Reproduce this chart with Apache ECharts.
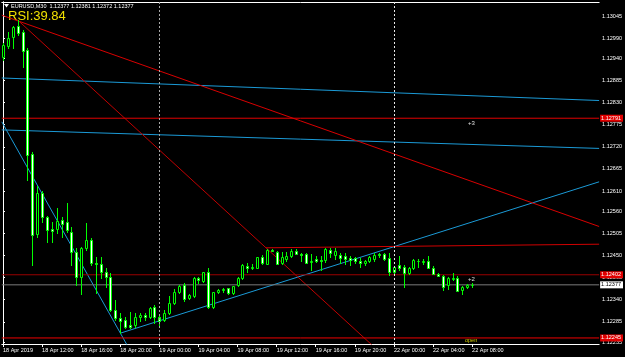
<!DOCTYPE html>
<html><head><meta charset="utf-8">
<script src="https://cdn.jsdelivr.net/npm/echarts@6/dist/echarts.min.js"></script>
<style>html,body{margin:0;padding:0;background:#000;}#c{width:625px;height:357px;}</style>
</head><body><div id="c"></div>
<script>
// ---- data (EURUSD M30, bar index 0 = 18 Apr 2019 08:00) ----
const opens = [1.12943,1.12971,1.12992,1.13020,1.13006,1.12961,1.12702,1.12503,1.12605,1.12546,
1.12515,1.12516,1.12538,1.12533,1.12508,1.12459,1.12397,1.12469,1.12488,1.12431,
1.12429,1.12408,1.12397,1.12315,1.12295,1.12290,1.12277,1.12277,1.12297,1.12302,
1.12298,1.12323,1.12297,1.12290,1.12306,1.12331,1.12360,1.12377,1.12345,1.12350,
1.12393,1.12387,1.12410,1.12321,1.12359,1.12364,1.12368,1.12357,1.12377,1.12394,
1.12424,1.12418,1.12420,1.12447,1.12430,1.12464,1.12459,1.12431,1.12441,1.12449,
1.12462,1.12454,1.12454,1.12434,1.12441,1.12439,1.12439,1.12464,1.12451,1.12451,
1.12449,1.12443,1.12443,1.12435,1.12431,1.12437,1.12441,1.12454,1.12454,1.12443,
1.12409,1.12426,1.12422,1.12406,1.12419,1.12435,1.12434,1.12435,1.12419,1.12403,
1.12399,1.12376,1.12391,1.12393,1.12364,1.12372,1.12377];
const highs = [1.12978,1.13005,1.13020,1.13035,1.13010,1.12966,1.12707,1.12623,1.12609,1.12548,
1.12533,1.12568,1.12546,1.12580,1.12521,1.12469,1.12471,1.12531,1.12493,1.12446,
1.12446,1.12419,1.12407,1.12339,1.12307,1.12298,1.12310,1.12307,1.12308,1.12307,
1.12323,1.12327,1.12302,1.12314,1.12349,1.12366,1.12377,1.12381,1.12354,1.12397,
1.12397,1.12410,1.12418,1.12360,1.12366,1.12369,1.12370,1.12375,1.12397,1.12430,
1.12432,1.12430,1.12447,1.12451,1.12465,1.12466,1.12461,1.12459,1.12459,1.12465,
1.12465,1.12456,1.12456,1.12454,1.12449,1.12449,1.12468,1.12468,1.12468,1.12457,
1.12456,1.12449,1.12447,1.12444,1.12439,1.12449,1.12456,1.12456,1.12456,1.12457,
1.12424,1.12449,1.12426,1.12422,1.12441,1.12441,1.12440,1.12449,1.12424,1.12406,
1.12401,1.12396,1.12406,1.12399,1.12374,1.12378,1.12381];
const lows = [1.12936,1.12966,1.12966,1.12998,1.12919,1.12638,1.12426,1.12496,1.12534,1.12483,
1.12483,1.12506,1.12496,1.12508,1.12426,1.12377,1.12354,1.12464,1.12426,1.12357,
1.12394,1.12372,1.12312,1.12290,1.12257,1.12270,1.12270,1.12272,1.12286,1.12290,
1.12294,1.12281,1.12273,1.12286,1.12305,1.12329,1.12357,1.12338,1.12342,1.12348,
1.12382,1.12384,1.12319,1.12319,1.12356,1.12359,1.12355,1.12354,1.12374,1.12391,
1.12410,1.12416,1.12418,1.12430,1.12429,1.12460,1.12430,1.12430,1.12435,1.12447,
1.12453,1.12435,1.12431,1.12414,1.12434,1.12415,1.12434,1.12447,1.12441,1.12431,
1.12430,1.12426,1.12431,1.12422,1.12426,1.12434,1.12436,1.12446,1.12439,1.12402,
1.12402,1.12414,1.12372,1.12404,1.12417,1.12422,1.12429,1.12418,1.12403,1.12398,
1.12364,1.12367,1.12389,1.12362,1.12354,1.12368,1.12372];
const closes = [1.12973,1.12990,1.13018,1.13004,1.12959,1.12700,1.12501,1.12605,1.12546,1.12513,
1.12512,1.12536,1.12528,1.12513,1.12459,1.12397,1.12469,1.12488,1.12431,1.12429,
1.12409,1.12397,1.12315,1.12295,1.12287,1.12272,1.12272,1.12297,1.12302,1.12298,
1.12319,1.12296,1.12287,1.12308,1.12333,1.12360,1.12374,1.12342,1.12352,1.12393,
1.12389,1.12408,1.12321,1.12358,1.12364,1.12366,1.12357,1.12374,1.12393,1.12426,
1.12420,1.12422,1.12446,1.12431,1.12464,1.12461,1.12430,1.12446,1.12449,1.12462,
1.12454,1.12452,1.12432,1.12437,1.12437,1.12436,1.12465,1.12457,1.12462,1.12443,
1.12441,1.12439,1.12435,1.12431,1.12435,1.12446,1.12451,1.12451,1.12441,1.12410,
1.12421,1.12419,1.12407,1.12419,1.12439,1.12436,1.12436,1.12418,1.12403,1.12399,
1.12371,1.12394,1.12393,1.12362,1.12372,1.12376,1.12377];

const timeTickBars = [0,8,16,24,32,40,48,56,64,72,80,88,96];
const timeTickLabels = ['18 Apr 2019','18 Apr 12:00','18 Apr 16:00','18 Apr 20:00','19 Apr 00:00','19 Apr 04:00',
  '19 Apr 08:00','19 Apr 12:00','19 Apr 16:00','19 Apr 20:00','22 Apr 00:00','22 Apr 04:00','22 Apr 08:00'];
const priceTicks = [1.13045,1.12990,1.12940,1.12885,1.12830,1.12775,1.12720,1.12665,1.12610,1.12560,
  1.12505,1.12450,1.12395,1.12340,1.12285,1.12235];
const periodSeparators = [32, 80];

// horizontal levels
const levelPrices = [1.12791, 1.12402, 1.12245, 1.12377];

// trend lines [barIndex, price]
const redShallow = [[-0.245,1.13047],[122,1.12522]];
const redSteep = [[3,1.13035],[76,1.12222]];
const redFlat = [[53.84,1.12469],[122,1.12478]];
const blueUpper = [[-0.245,1.12891],[122,1.12835]];
const blueLower = [[-0.245,1.12762],[122,1.12716]];
const blueDown = [[-0.245,1.12782],[25.5,1.12225]];
const blueUp = [[24.04,1.12257],[122,1.12633]];

const headerText = 'EURUSD,M30  1.12377 1.12381 1.12372 1.12377';
const rsiText = 'RSI:39.84';

// ---- chart ----
const xMin = -0.245, xMax = 122;
const yMin = 1.12230, yMax = 1.130798;
const FONT = 'Liberation Sans';
const candleData = opens.map((o, i) => [i, o, closes[i], lows[i], highs[i]]);

function renderCandle(params, api) {
  const i = api.value(0), o = api.value(1), c = api.value(2), l = api.value(3), h = api.value(4);
  const pO = api.coord([i, o]), pC = api.coord([i, c]), pH = api.coord([i, h]), pL = api.coord([i, l]);
  const C = Math.round(pO[0]);
  const top = Math.round(Math.min(pO[1], pC[1])) + 0.5;
  const bot = Math.round(Math.max(pO[1], pC[1])) + 0.5;
  const bull = c > o;
  return {
    type: 'group',
    children: [
      { type: 'line', shape: { x1: C + 0.5, y1: Math.round(pH[1]), x2: C + 0.5, y2: Math.round(pL[1]) + 1 },
        style: { stroke: '#00ff00', lineWidth: 1 } },
      { type: 'rect', shape: { x: C - 0.5, y: top, width: 2, height: Math.max(bot - top, 0.01) },
        style: { fill: bull ? '#000000' : '#ffffff', stroke: '#00ff00', lineWidth: 1 } }
    ]
  };
}

function lineSeries(data, color, extra) {
  return Object.assign({ type: 'line', data: data, symbol: 'none', showSymbol: false, silent: true, clip: true,
    lineStyle: { color: color, width: 1 }, z: 1 }, extra || {});
}

const levelStyles = [
  { line: '#e00000', bg: '#e00000', txt: '#ffffff' },
  { line: '#9a0000', bg: '#e00000', txt: '#ffffff' },
  { line: '#ee0000', bg: '#e00000', txt: '#ffffff' },
  { line: '#7a7a7a', bg: '#ffffff', txt: '#000000' }
];

const levelSeries = levelPrices.map((v, k) => lineSeries([[xMin, v], [xMax, v]], levelStyles[k].line, {
  z: 2,
  endLabel: { show: true, distance: 1, formatter: () => v.toFixed(5),
    color: levelStyles[k].txt, backgroundColor: levelStyles[k].bg,
    fontSize: 5.5, fontFamily: FONT, padding: [1, 2, 0, 1] }
}));

const separatorSeries = lineSeries([], '#ffffff', {
  markLine: {
    silent: true, symbol: ['none', 'none'], animation: false,
    data: periodSeparators.map((b, k) => ({
      xAxis: b,
      lineStyle: { color: k === 0 ? '#a8a8a8' : '#e8e8e8', width: 1, type: [2, 2] },
      label: { show: false }
    }))
  }
});

const option = {
  backgroundColor: '#000000',
  animation: false,
  grid: { left: 1, right: 25, top: 2, bottom: 13, containLabel: false },
  xAxis: [{
    type: 'value', min: xMin, max: xMax, position: 'bottom',
    axisLine: { show: true, lineStyle: { color: '#ffffff', width: 1 } },
    axisTick: { show: true, customValues: timeTickBars, length: 3, lineStyle: { color: '#ffffff' } },
    axisLabel: { show: true, customValues: timeTickBars, color: '#ffffff', fontSize: 5.5, fontFamily: FONT,
      align: 'left', margin: 3,
      formatter: v => timeTickLabels[timeTickBars.indexOf(Math.round(v))] || '' },
    splitLine: { show: false }
  }, {
    type: 'value', min: xMin, max: xMax, position: 'top',
    axisLine: { show: true, lineStyle: { color: '#ffffff', width: 1 } },
    axisTick: { show: false }, axisLabel: { show: false }, splitLine: { show: false }
  }],
  yAxis: [{
    type: 'value', min: yMin, max: yMax, position: 'right',
    axisLine: { show: true, lineStyle: { color: '#ffffff', width: 1 } },
    axisTick: { show: true, customValues: priceTicks, length: 2, lineStyle: { color: '#ffffff' } },
    axisLabel: { show: true, customValues: priceTicks, color: '#ffffff', fontSize: 5.5, fontFamily: FONT, margin: 3,
      formatter: v => v.toFixed(5) },
    splitLine: { show: false }
  }, {
    type: 'value', min: yMin, max: yMax, position: 'left',
    axisLine: { show: true, lineStyle: { color: '#ffffff', width: 1 } },
    axisTick: { show: false }, axisLabel: { show: false }, splitLine: { show: false }
  }],
  series: [
    lineSeries(blueUpper, '#1b9ad6'),
    lineSeries(blueLower, '#1b9ad6'),
    lineSeries(blueDown, '#1b9ad6'),
    lineSeries(blueUp, '#1b9ad6'),
    lineSeries(redShallow, '#d80000'),
    lineSeries(redSteep, '#c00000'),
    lineSeries(redFlat, '#d00000'),
    separatorSeries
  ].concat(levelSeries).concat([{
    type: 'custom', renderItem: renderCandle, data: candleData, z: 3, silent: true,
    encode: { x: 0, y: [1, 2, 3, 4] }
  }]),
  graphic: [
    { type: 'polygon', shape: { points: [[4, 4], [9, 4], [6.5, 7.5]] }, style: { fill: '#ffffff' }, silent: true },
    { type: 'text', x: 11, y: 3, silent: true,
      style: { text: headerText, fill: '#ffffff', font: '5.5px "Liberation Sans"', verticalAlign: 'top' } },
    { type: 'text', x: 8, y: 10, silent: true,
      style: { text: rsiText, fill: '#f0e000', font: '13px "Liberation Sans"', verticalAlign: 'top' } },
    { type: 'text', x: 468, y: 120.5, silent: true,
      style: { text: '+3', fill: '#e0e0e0', font: '6px "Liberation Sans"', verticalAlign: 'top' } },
    { type: 'text', x: 468, y: 276.5, silent: true,
      style: { text: '+2', fill: '#e0e0e0', font: '6px "Liberation Sans"', verticalAlign: 'top' } },
    { type: 'text', x: 465, y: 337.5, silent: true,
      style: { text: 'open', fill: '#d0cc00', font: '5.5px "Liberation Sans"', verticalAlign: 'top' } }
  ]
};

const chart = echarts.init(document.getElementById('c'), null, { renderer: 'canvas' });
chart.setOption(option);
</script>
</body></html>
